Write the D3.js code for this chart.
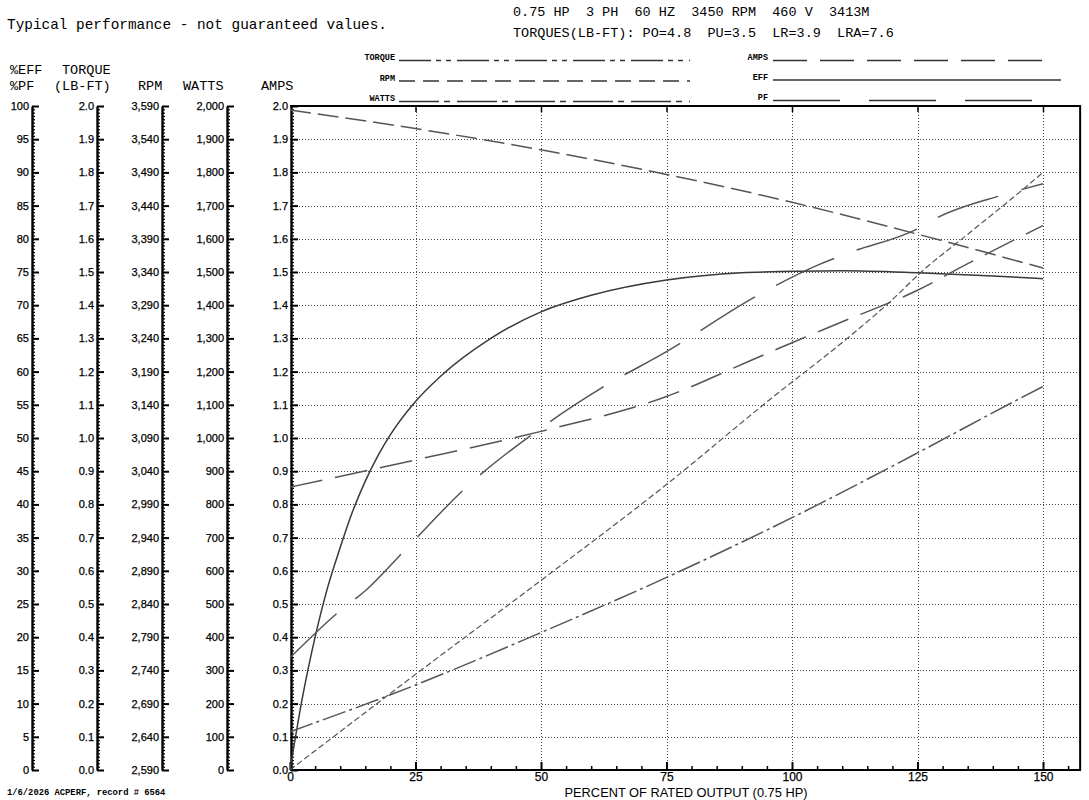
<!DOCTYPE html>
<html>
<head>
<meta charset="utf-8">
<script src="https://cdn.jsdelivr.net/npm/d3@7"></script>
<style>
body { margin: 0; background: #fff; }
.mono { font-family: 'Courier New', 'Liberation Mono', monospace; }
.tick text { font-family: Arial, 'Liberation Sans', sans-serif; font-size: 11px; fill: #000; stroke: #000; stroke-width: 0.25px; }
</style>
</head>
<body>
<script>
var width = 1089,
    height = 800;

// load points (percent of rated output) and values
var effLoad = [0, 2.5, 5, 7.5, 10, 12.5, 15, 17.5, 20, 25, 30, 40, 50, 60, 75, 90, 100, 110, 125, 140, 150];
var effValues = [0, 11, 20, 27.5, 33.5, 39, 43.5, 47.3, 50.5, 55.5, 59.3, 65, 69, 71.5, 73.8, 74.9, 75.1, 75.2, 74.9, 74.4, 74];

var pfLoad = [0, 10, 15, 23, 35, 50, 62, 75, 93, 105, 111, 125, 129, 142, 150];
var pfValues = [16.9, 24, 27, 33.2, 42.5, 51.5, 57.5, 63, 71.4, 76, 77.8, 81.5, 83.2, 86.6, 88.3];

var ampsLoad = [0, 25, 50, 75, 92, 100, 110, 125, 135, 150];
var ampsValues = [0.852, 0.934, 1.02, 1.125, 1.235, 1.287, 1.35, 1.445, 1.525, 1.64];

var rpmLoad = [0, 25, 50, 75, 100, 125, 150];
var rpmValues = [3584, 3556, 3524, 3487, 3445, 3397, 3346];

var torqueLoad = [0, 25, 50, 75, 95.6, 111, 119.5, 126.2, 134.8, 149, 150];
var torqueValues = [0, 0.288, 0.571, 0.86, 1.116, 1.3, 1.41, 1.506, 1.611, 1.787, 1.8];

var wattsLoad = [0, 25, 50, 75, 100, 125, 145, 150];
var wattsValues = [115, 256, 414, 580, 760, 955, 1116, 1155];

// tick labels of the five left scales
var effTicks = [0, 5, 10, 15, 20, 25, 30, 35, 40, 45, 50, 55, 60, 65, 70, 75, 80, 85, 90, 95, 100];
var torqueTicks = [0, 0.1, 0.2, 0.3, 0.4, 0.5, 0.6, 0.7, 0.8, 0.9, 1.0, 1.1, 1.2, 1.3, 1.4, 1.5, 1.6, 1.7, 1.8, 1.9, 2.0];
var rpmTicks = [2590, 2640, 2690, 2740, 2790, 2840, 2890, 2940, 2990, 3040, 3090, 3140, 3190, 3240, 3290, 3340, 3390, 3440, 3490, 3540, 3590];
var wattsTicks = [0, 100, 200, 300, 400, 500, 600, 700, 800, 900, 1000, 1100, 1200, 1300, 1400, 1500, 1600, 1700, 1800, 1900, 2000];
var ampsTicks = [0, 0.1, 0.2, 0.3, 0.4, 0.5, 0.6, 0.7, 0.8, 0.9, 1.0, 1.1, 1.2, 1.3, 1.4, 1.5, 1.6, 1.7, 1.8, 1.9, 2.0];
var loadTicks = [0, 25, 50, 75, 100, 125, 150];

var plotTop = 106,
    plotBottom = 770,
    xEnd = 157.4;

var x = d3.scaleLinear().domain([0, 150]).range([290, 1043]);

var yEff = d3.scaleLinear().domain([0, 100]).range([plotBottom, plotTop]),
    yTorque = d3.scaleLinear().domain([0, 2]).range([plotBottom, plotTop]),
    yRpm = d3.scaleLinear().domain([2590, 3590]).range([plotBottom, plotTop]),
    yWatts = d3.scaleLinear().domain([0, 2000]).range([plotBottom, plotTop]),
    yAmps = d3.scaleLinear().domain([0, 2]).range([plotBottom, plotTop]);

var svg = d3.select('body')
  .append('svg')
  .attr('width', width)
  .attr('height', height);

// header texts
var header = svg.append('g').attr('class', 'mono').style('font-size', '14.4px');
header.append('text').attr('x', 7).attr('y', 29).text('Typical performance - not guaranteed values.');
header.append('text').attr('x', 513).attr('y', 16).style('font-size', '13.5px')
  .attr('xml:space', 'preserve').text('0.75 HP  3 PH  60 HZ  3450 RPM  460 V  3413M');
header.append('text').attr('x', 513).attr('y', 37).style('font-size', '13.5px')
  .attr('xml:space', 'preserve').text('TORQUES(LB-FT): PO=4.8  PU=3.5  LR=3.9  LRA=7.6');

// axis titles
var titles = svg.append('g').attr('class', 'mono').style('font-size', '13.5px');
[['%EFF', 10, 74], ['%PF', 10, 90], ['TORQUE', 62, 74], ['(LB-FT)', 54, 90],
 ['RPM', 138, 90], ['WATTS', 183, 90], ['AMPS', 261, 90]].forEach(function(t) {
  titles.append('text').attr('x', t[1]).attr('y', t[2]).text(t[0]);
});

// grid
var grid = svg.append('g')
  .attr('stroke', '#444')
  .attr('stroke-width', 1)
  .attr('stroke-dasharray', '1,2');

grid.selectAll('.hg')
  .data(ampsTicks.slice(1, -1))
  .enter().append('line')
  .attr('x1', x(0)).attr('x2', x(xEnd))
  .attr('y1', function(d) { return Math.round(yAmps(d)) + 0.5; })
  .attr('y2', function(d) { return Math.round(yAmps(d)) + 0.5; });

grid.selectAll('.vg')
  .data(loadTicks.slice(1))
  .enter().append('line')
  .attr('y1', plotTop).attr('y2', plotBottom)
  .attr('x1', function(d) { return Math.round(x(d)) + 0.5; })
  .attr('x2', function(d) { return Math.round(x(d)) + 0.5; });

// left scales: major ticks, ten minor ticks each, labels on the left
function drawScale(scale, xPos, ticks, fmt) {
  var minors = [];
  for (var i = 0; i < ticks.length - 1; i++) {
    for (var j = 1; j < 10; j++) minors.push(ticks[i] + (ticks[i + 1] - ticks[i]) * j / 10);
  }
  var g = svg.append('g').attr('transform', 'translate(' + xPos + ',0)');

  var minor = g.append('g').call(d3.axisRight(scale).tickValues(minors).tickSize(3).tickFormat(''));
  minor.select('.domain').remove();
  minor.selectAll('line').attr('stroke-width', 1.2);

  var major = g.append('g').call(d3.axisRight(scale).tickValues(ticks).tickSize(7).tickSizeOuter(0).tickFormat(''));
  major.select('.domain').attr('stroke-width', 2.4);
  major.selectAll('line').attr('stroke-width', 2);

  var labels = g.append('g').call(d3.axisLeft(scale).tickValues(ticks).tickSize(0).tickPadding(3).tickFormat(fmt));
  labels.select('.domain').remove();
}

drawScale(yEff, 32, effTicks, d3.format('d'));
drawScale(yTorque, 97, torqueTicks, d3.format('.1f'));
drawScale(yRpm, 162, rpmTicks, d3.format(','));
drawScale(yWatts, 227, wattsTicks, d3.format(','));
drawScale(yAmps, 291, ampsTicks, d3.format('.1f'));

// plot frame
svg.append('path')
  .attr('d', 'M' + x(0) + ',' + plotTop + 'H' + x(xEnd) + 'V' + plotBottom + 'H' + x(0))
  .attr('fill', 'none')
  .attr('stroke', '#000')
  .attr('stroke-width', 2);

// top ticks at the grid positions
svg.append('g')
  .attr('transform', 'translate(0,' + plotTop + ')')
  .call(d3.axisBottom(x).tickValues(loadTicks.slice(1)).tickSize(6).tickSizeOuter(0).tickFormat(''))
  .call(function(g) { g.select('.domain').remove(); g.selectAll('line').attr('stroke-width', 1.5); });

// bottom axis
var minorLoad = d3.range(5, xEnd, 5).filter(function(d) { return d % 25 !== 0; });
svg.append('g')
  .attr('transform', 'translate(0,' + plotBottom + ')')
  .call(d3.axisTop(x).tickValues(minorLoad).tickSize(4).tickFormat(''))
  .call(function(g) { g.select('.domain').remove(); g.selectAll('line').attr('stroke-width', 1.5); });

svg.append('g')
  .attr('transform', 'translate(0,' + plotBottom + ')')
  .call(d3.axisTop(x).tickValues(loadTicks).tickSize(8).tickFormat(''))
  .call(function(g) { g.select('.domain').remove(); g.selectAll('line').attr('stroke-width', 2); });

svg.append('g')
  .attr('transform', 'translate(0,' + plotBottom + ')')
  .call(d3.axisBottom(x).tickValues(loadTicks).tickSize(0).tickPadding(2))
  .call(function(g) { g.select('.domain').remove(); g.selectAll('text').style('font-size', '12px'); });

svg.append('text')
  .attr('x', 686).attr('y', 797)
  .attr('text-anchor', 'middle')
  .attr('textLength', 243)
  .attr('lengthAdjust', 'spacingAndGlyphs')
  .style('font-family', "'Liberation Sans Narrow', 'Arial Narrow', Arial, sans-serif")
  .style('font-size', '13px')
  .text('PERCENT OF RATED OUTPUT (0.75 HP)');

svg.append('text')
  .attr('class', 'mono')
  .attr('x', 7).attr('y', 795)
  .style('font-size', '8.8px')
  .style('font-weight', 'bold')
  .text('1/6/2026 ACPERF, record # 6564');

// performance curves
var series = [
  { name: 'EFF', load: effLoad, values: effValues, y: yEff, dash: null, color: '#3a3a3a', w: 1.5 },
  { name: 'PF', load: pfLoad, values: pfValues, y: yEff, dash: '64,24', color: '#555', w: 1.5 },
  { name: 'AMPS', load: ampsLoad, values: ampsValues, y: yAmps, dash: '33,13', color: '#555', w: 1.5 },
  { name: 'RPM', load: rpmLoad, values: rpmValues, y: yRpm, dash: '21,7', color: '#555', w: 1.5 },
  { name: 'TORQUE', load: torqueLoad, values: torqueValues, y: yTorque, dash: '6,3', color: '#555', w: 1.2 },
  { name: 'WATTS', load: wattsLoad, values: wattsValues, y: yWatts, dash: '24,4,3,4', color: '#555', w: 1.5 }
];

series.forEach(function(s) {
  var line = d3.line()
    .x(function(d) { return x(d[0]); })
    .y(function(d) { return s.y(d[1]); })
    .curve(d3.curveMonotoneX);
  svg.append('path')
    .datum(d3.zip(s.load, s.values))
    .attr('d', line)
    .attr('fill', 'none')
    .attr('stroke', s.color)
    .attr('stroke-width', s.w)
    .attr('stroke-dasharray', s.dash);
});

// legend
var legend = [
  { name: 'TORQUE', lx: 395, x1: 399, x2: 690, y: 60, dash: '32,5,5,5,5,6' },
  { name: 'RPM', lx: 395, x1: 399, x2: 690, y: 80.5, dash: '16,8' },
  { name: 'WATTS', lx: 395, x1: 399, x2: 690, y: 101, dash: '40,5,6,7' },
  { name: 'AMPS', lx: 768, x1: 773, x2: 1054, y: 60, dash: '34,13' },
  { name: 'EFF', lx: 768, x1: 773, x2: 1061, y: 79.5, dash: null },
  { name: 'PF', lx: 768, x1: 773, x2: 1039, y: 100, dash: '67,29' }
];

var lg = svg.selectAll('.legend')
  .data(legend)
  .enter().append('g');

lg.append('text')
  .attr('class', 'mono')
  .attr('x', function(d) { return d.lx; })
  .attr('y', function(d) { return d.y; })
  .attr('text-anchor', 'end')
  .style('font-size', '8.5px')
  .style('font-weight', 'bold')
  .text(function(d) { return d.name; });

lg.append('line')
  .attr('x1', function(d) { return d.x1; })
  .attr('x2', function(d) { return d.x2; })
  .attr('y1', function(d) { return d.y + 0.5; })
  .attr('y2', function(d) { return d.y + 0.5; })
  .attr('stroke', '#333')
  .attr('stroke-width', 1.3)
  .attr('stroke-dasharray', function(d) { return d.dash; });
</script>
</body>
</html>
